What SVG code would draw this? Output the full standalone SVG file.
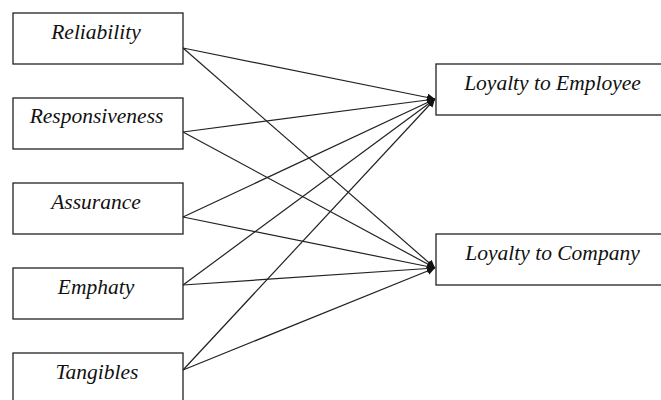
<svg xmlns="http://www.w3.org/2000/svg" width="661" height="400" viewBox="0 0 661 400">
<style>
.box{fill:#fff;stroke:#222;stroke-width:1.3}
.lbl{font-family:"Liberation Serif","Times New Roman",serif;font-style:italic;font-size:21.5px;fill:#111;text-anchor:middle}
.con{stroke:#222;stroke-width:1.2;fill:none;marker-end:url(#ah)}
</style>
<defs>
<marker id="ah" viewBox="0 0 10 10" refX="10" refY="5" markerWidth="8" markerHeight="8" markerUnits="userSpaceOnUse" orient="auto">
<path d="M0,0 L10,5 L0,10 z" fill="#111"/>
</marker>
</defs>
<rect width="661" height="400" fill="#fff"/>
<g id="connectors">
<line class="con" x1="183" y1="48" x2="435" y2="99"/>
<line class="con" x1="183" y1="48" x2="435" y2="268"/>
<line class="con" x1="183" y1="132" x2="435" y2="99"/>
<line class="con" x1="183" y1="132" x2="435" y2="268"/>
<line class="con" x1="183" y1="217" x2="435" y2="99"/>
<line class="con" x1="183" y1="217" x2="435" y2="268"/>
<line class="con" x1="183" y1="285" x2="435" y2="99"/>
<line class="con" x1="183" y1="285" x2="435" y2="268"/>
<line class="con" x1="183" y1="370" x2="435" y2="99"/>
<line class="con" x1="183" y1="370" x2="435" y2="268"/>
</g>
<g id="reliability"><rect class="box" x="13" y="13" width="170" height="51"/><text class="lbl" x="96" y="39">Reliability</text></g>
<g id="responsiveness"><rect class="box" x="13" y="98" width="170" height="51"/><text class="lbl" x="96.5" y="123">Responsiveness</text></g>
<g id="assurance"><rect class="box" x="13" y="183" width="170" height="51"/><text class="lbl" x="96" y="209">Assurance</text></g>
<g id="emphaty"><rect class="box" x="13" y="268" width="170" height="51"/><text class="lbl" x="96" y="294">Emphaty</text></g>
<g id="tangibles"><rect class="box" x="13" y="353" width="170" height="51"/><text class="lbl" x="97" y="379">Tangibles</text></g>
<g id="loyalty-employee"><rect class="box" x="436" y="64" width="230" height="51"/><text class="lbl" x="552.5" y="90">Loyalty to Employee</text></g>
<g id="loyalty-company"><rect class="box" x="436" y="234" width="230" height="51"/><text class="lbl" x="552.5" y="260">Loyalty to Company</text></g>
</svg>
